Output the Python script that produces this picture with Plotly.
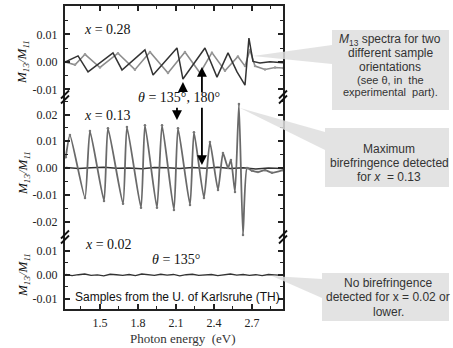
import plotly.graph_objects as go

W, H = 453, 348

# ---------------- data ----------------
# x = 0.28, theta = 135 deg
energy_top_135 = [1.224, 1.279, 1.327, 1.406, 1.603, 1.674, 1.855, 1.919, 2.108, 2.155,
                  2.329, 2.424, 2.511, 2.582, 2.645, 2.676, 2.708, 2.763, 2.842, 2.945]
m13_top_135 = [0.0, 0.0011, 0.0022, -0.0036, 0.0033, -0.0029, 0.0044, -0.0047, 0.0051, -0.0062,
               0.0051, -0.0055, 0.0033, -0.0036, -0.0084, 0.0087, 0.0002, -0.0004, 0.0001, -0.0003]
# x = 0.28, theta = 180 deg
energy_top_180 = [1.224, 1.303, 1.382, 1.500, 1.642, 1.776, 1.895, 2.037, 2.171, 2.290,
                  2.384, 2.487, 2.589, 2.645, 2.684, 2.724, 2.803, 2.882, 2.945]
m13_top_180 = [0.0, -0.0010, 0.0028, -0.0020, 0.0032, -0.0028, 0.0036, -0.0040, 0.0036, -0.0040,
               0.0034, -0.0032, 0.0020, -0.0015, 0.0044, -0.0015, -0.0027, -0.0020, -0.0022]

# x = 0.13, theta = 135 deg
energy_mid_135 = [1.230, 1.263, 1.382, 1.421, 1.532, 1.563, 1.682, 1.713, 1.824, 1.855,
                  1.950, 1.990, 2.084, 2.116, 2.211, 2.242, 2.321, 2.368, 2.432, 2.471,
                  2.511, 2.534, 2.566, 2.597, 2.629, 2.661, 2.700, 2.747, 2.803, 2.858, 2.945]
m13_mid_135 = [0.0040, 0.0123, -0.0112, 0.0138, -0.0123, 0.0149, -0.0134, 0.0153, -0.0149, 0.0160,
               -0.0149, 0.0160, -0.0157, 0.0149, -0.0138, 0.0134, -0.0112, 0.0097, -0.0082, 0.0056,
               0.0000, 0.0030, -0.0090, 0.0239, -0.0250, 0.0000, -0.0010, -0.0015, -0.0008, -0.0018, -0.0008]
# x = 0.13, theta = 180 deg
energy_mid_180 = [1.23, 1.33, 1.43, 1.53, 1.63, 1.73, 1.83, 1.93, 2.03, 2.13,
                  2.23, 2.33, 2.43, 2.53, 2.63, 2.73, 2.83, 2.94]
m13_mid_180 = [0.0002, -0.0002, 0.0001, 0.0003, -0.0001, 0.0000, -0.0003, 0.0002, 0.0001, -0.0002,
               0.0002, -0.0001, 0.0003, -0.0002, 0.0001, -0.0004, 0.0000, -0.0002]

# x = 0.02, theta = 135 deg
energy_bot = [1.23, 1.28, 1.33, 1.38, 1.43, 1.48, 1.53, 1.58, 1.63, 1.68, 1.73, 1.78,
              1.83, 1.88, 1.93, 1.98, 2.03, 2.08, 2.13, 2.18, 2.23, 2.28, 2.33, 2.38,
              2.43, 2.48, 2.53, 2.58, 2.63, 2.68, 2.73, 2.78, 2.83, 2.88, 2.94]
m13_bot = [0.0002, -0.0003, 0.0001, 0.0004, -0.0002, 0.0000, -0.0004, 0.0003, 0.0001, -0.0002,
           0.0002, -0.0003, 0.0004, 0.0000, -0.0002, 0.0003, -0.0001, 0.0002, -0.0004, 0.0001,
           0.0003, -0.0002, 0.0000, 0.0002, -0.0003, 0.0001, 0.0004, -0.0001, 0.0002, -0.0002,
           0.0001, -0.0003, 0.0002, 0.0000, -0.0002]

x_ticks = [1.5, 1.8, 2.1, 2.4, 2.7]
x_tick_labels = ["1.5", "1.8", "2.1", "2.4", "2.7"]
x_minor = [1.35, 1.65, 1.95, 2.25, 2.55, 2.85]
y_ticks_small = [-0.01, 0.0, 0.01]
y_labels_small = ["-0.01", "0.00", "0.01"]
y_minor_small = [-0.005, 0.005, 0.015]
y_ticks_mid = [-0.02, -0.01, 0.0, 0.01, 0.02]
y_labels_mid = ["-0.02", "-0.01", "0.00", "0.01", "0.02"]
y_minor_mid = [-0.015, -0.005, 0.005, 0.015, 0.025]

# ---------------- helpers ----------------
def fx(p):
    return p / W

def fy(p):
    return 1 - p / H

SERIF = "Liberation Serif"
SANS = "Liberation Sans"
AX = "#222222"

fig = go.Figure()
fig.add_trace(go.Scatter(x=energy_top_180, y=m13_top_180, xaxis="x3", yaxis="y3", mode="lines+markers",
                         line=dict(color="#8c8c8c", width=1.6), marker=dict(size=2.5, color="#9a9a9a")))
fig.add_trace(go.Scatter(x=energy_top_135, y=m13_top_135, xaxis="x3", yaxis="y3", mode="lines",
                         line=dict(color="#333333", width=1.5)))
fig.add_trace(go.Scatter(x=energy_mid_180, y=m13_mid_180, xaxis="x2", yaxis="y2", mode="lines",
                         line=dict(color="#333333", width=1.5)))
fig.add_trace(go.Scatter(x=energy_mid_135, y=m13_mid_135, xaxis="x2", yaxis="y2", mode="lines+markers",
                         line=dict(color="#6a6a6a", width=1.8, shape="spline", smoothing=0.5),
                         marker=dict(size=2.5, color="#777777")))
fig.add_trace(go.Scatter(x=energy_bot, y=m13_bot, xaxis="x", yaxis="y", mode="lines",
                         line=dict(color="#333333", width=1.4)))

xr = [1.224, 2.945]
xdom = [fx(65), fx(283)]
common_ax = dict(showline=True, linecolor=AX, linewidth=2, ticks="inside", ticklen=5,
                 tickwidth=1.5, tickcolor=AX, showgrid=False, zeroline=False)

def yaxis(dom, rng, tv, tt, mv, anchor):
    return dict(domain=dom, range=rng, anchor=anchor, mirror="ticks", tickvals=tv, ticktext=tt,
                minor=dict(tickvals=mv, ticks="inside", ticklen=3, tickwidth=1.2, tickcolor=AX),
                tickfont=dict(family=SERIF, size=12, color=AX), ticklabelstandoff=3, **common_ax)

fig.update_layout(
    width=W, height=H, margin=dict(l=0, r=0, t=0, b=0),
    paper_bgcolor="white", plot_bgcolor="white", showlegend=False,
    xaxis=dict(domain=xdom, range=xr, anchor="y", tickvals=x_ticks, ticktext=x_tick_labels,
               minor=dict(tickvals=x_minor, ticks="inside", ticklen=3, tickwidth=1.2, tickcolor=AX),
               tickfont=dict(family=SERIF, size=12, color=AX), ticklabelstandoff=2, **common_ax),
    xaxis2=dict(domain=xdom, range=xr, anchor="y2", visible=False),
    xaxis3=dict(domain=xdom, range=xr, anchor="y3", side="top", tickvals=x_ticks,
                minor=dict(tickvals=x_minor, ticks="inside", ticklen=3, tickwidth=1.2, tickcolor=AX),
                showticklabels=False, **common_ax),
    yaxis=yaxis([fy(309), fy(237)], [-0.0142, 0.0158], y_ticks_small, y_labels_small, [-0.005, 0.005], "x"),
    yaxis2=yaxis([fy(237), fy(97)], [-0.02579, 0.02654], y_ticks_mid, y_labels_mid, y_minor_mid, "x2"),
    yaxis3=yaxis([fy(97), fy(6)], [-0.01273, 0.02036], y_ticks_small, y_labels_small, y_minor_small, "x3"),
)

shapes = []
# callout pointers and boxes
GREY = "#e3e3e3"
for path in ["M %f,%f L %f,%f L %f,%f Z" % (fx(253), fy(56), fx(332), fy(45), fx(332), fy(64)),
             "M %f,%f L %f,%f L %f,%f Z" % (fx(240), fy(108), fx(325), fy(132), fx(325), fy(150)),
             "M %f,%f L %f,%f L %f,%f Z" % (fx(272), fy(276), fx(322), fy(279), fx(322), fy(298))]:
    shapes.append(dict(type="path", path=path, xref="paper", yref="paper",
                       fillcolor="#dedede", line=dict(width=0), opacity=0.85, layer="above"))
for (x0, y0, x1, y1) in [(332, 30, 449, 110), (325, 128, 449, 187), (322, 273, 449, 321)]:
    shapes.append(dict(type="rect", xref="paper", yref="paper", x0=fx(x0), x1=fx(x1), y0=fy(y1), y1=fy(y0),
                       fillcolor=GREY, line=dict(width=0), layer="above"))
# axis breaks
for (bx, by) in [(65, 97), (283, 97), (65, 237), (283, 237)]:
    for d in (-2.5, 2.5):
        shapes.append(dict(type="line", xref="paper", yref="paper",
                           x0=fx(bx - 4), y0=fy(by + 4 + d), x1=fx(bx + 4), y1=fy(by - 4 + d),
                           line=dict(color="#111111", width=1.8)))
fig.update_layout(shapes=shapes)

ann = []
def txt(t, x, y, size, family, color="#111111", xanchor="center", angle=0):
    ann.append(dict(text=t, x=fx(x), y=fy(y), xref="paper", yref="paper", showarrow=False,
                    xanchor=xanchor, yanchor="middle", textangle=angle,
                    font=dict(family=family, size=size, color=color)))

# serif labels
txt("<i>x</i> = 0.28", 82, 29, 14, SERIF, xanchor="left")
txt("<i>x</i> = 0.13", 82, 115, 14, SERIF, xanchor="left")
txt("<i>x</i> = 0.02", 83, 245, 14, SERIF, xanchor="left")
txt("<i>θ</i> = 135°, 180°", 179, 98, 14, SERIF)
txt("<i>θ</i> = 135°", 176, 259, 14, SERIF)
txt("Photon energy  (eV)", 183, 338, 13, SERIF, color="#333333")
for yc in (62, 173, 275):
    txt("<i>M</i><sub><i>13</i></sub><i>/M</i><sub><i>11</i></sub>", 23, yc, 13, SERIF, angle=-90)
txt("Samples from the U. of Karlsruhe (TH)", 177, 297, 12, SANS)

# callout texts
TC = "#333333"
for t, y, s in [("<i>M</i><sub>13</sub> spectra for two", 40, 12), ("different sample", 53, 12),
                ("orientations", 67, 12), ("(see θ, in  the", 80, 11), ("experimental  part).", 92, 11)]:
    txt(t, 390, y, s, SANS, color=TC)
for t, y in [("Maximum", 149), ("birefringence detected", 163), ("for <i>x</i>  = 0.13", 177)]:
    txt(t, 389, y, 12, SANS, color=TC)
for t, y in [("No birefringence", 283), ("detected for x = 0.02 or", 297), ("lower.", 312)]:
    txt(t, 388, y, 12, SANS, color=TC)

# arrows
def arrow(xa, ya, x, y, x_tail, y_tail):
    ann.append(dict(text="", x=x, y=y, ax=x_tail, ay=y_tail, xref=xa, yref=ya,
                    axref=xa, ayref=ya, showarrow=True, arrowhead=2, arrowsize=1.1,
                    arrowwidth=1.8, arrowcolor="#000000", standoff=0))
arrow("x3", "y3", 2.155, -0.0073, 2.155, -0.0116)
arrow("x3", "y3", 2.305, -0.0018, 2.305, -0.0116)
arrow("x2", "y2", 2.108, 0.0179, 2.108, 0.0231)
arrow("x2", "y2", 2.305, 0.0011, 2.305, 0.0231)

fig.update_layout(annotations=ann)
fig.write_html("out.html", config={"displayModeBar": False},
               post_script="document.body.style.margin='0';document.body.style.padding='0';")
